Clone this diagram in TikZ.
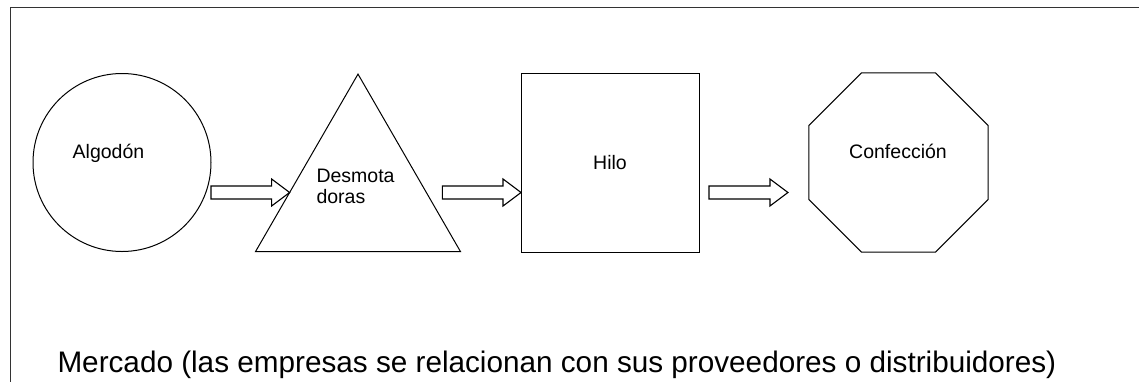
\documentclass[tikz,border=0pt]{standalone}
\usepackage{fontspec}
\setmainfont{Liberation Sans}
\usetikzlibrary{shapes.geometric,calc}

\begin{document}
\begin{tikzpicture}[x=1pt, y=-1pt, line width=1pt,
  stage/.style={draw, inner sep=0pt, outer sep=0pt, font=\fontsize{19.5}{21}\selectfont},
  txt/.style={inner sep=0pt, font=\fontsize{19.5}{21}\selectfont},
  blockarrow/.style={line width=1.1pt, to path={let \p1=(\tikztostart), \p2=(\tikztotarget) in
    (\x1,\y1+6.5pt) -- (\x2-18pt,\y1+6.5pt) -- (\x2-18pt,\y1+13.5pt) -- (\x2,\y1)
    -- (\x2-18pt,\y1-13.5pt) -- (\x2-18pt,\y1-6.5pt) -- (\x1,\y1-6.5pt) -- cycle}}]
  \useasboundingbox (0,0) rectangle (1139,381);

  % Frame
  \draw[black!80] (10,390) -- (10,7) -- (1150,7);

  % Stages
  \node[stage, circle, minimum size=178pt] (alg) at (122,162.5) {};
  \node[stage, regular polygon, regular polygon sides=3, minimum size=236.8pt] (desm) at (358,192.5) {};
  \node[stage, rectangle, minimum width=178pt, minimum height=179pt] (hilo) at (610,162.5) {Hilo};
  \node[stage, regular polygon, regular polygon sides=8, minimum size=193.8pt] (conf) at (898.5,162.5) {};

  % Labels
  \node[txt, anchor=base] (algtxt) at (108.5,158) {Algodón};
  \node[txt, anchor=base west, align=left] (desmtxt) at (316,203) {Desmota\\doras};
  \node[txt, anchor=base] (conftxt) at (898,158) {Confección};

  % Flow arrows
  \coordinate (a1) at (alg.east |- desm.west);
  \coordinate (a2) at ($(desm.east)+(16,0)$);
  \coordinate (b2) at (hilo.west |- desm.east);
  \coordinate (a3) at ($(hilo.east |- desm.east)+(10,0)$);
  \coordinate (b3) at ($(conf.west |- desm.west)+(-21,0)$);
  \draw[blockarrow] (a1) to (desm.west);
  \draw[blockarrow] (a2) to (b2);
  \draw[blockarrow] (a3) to (b3);

  % Market
  \node[anchor=base west, inner sep=0pt, font=\fontsize{29.7}{33}\selectfont] (mkt) at (57,372)
    {Mercado (las empresas se relacionan con sus proveedores o distribuidores)};
\end{tikzpicture}
\end{document}
